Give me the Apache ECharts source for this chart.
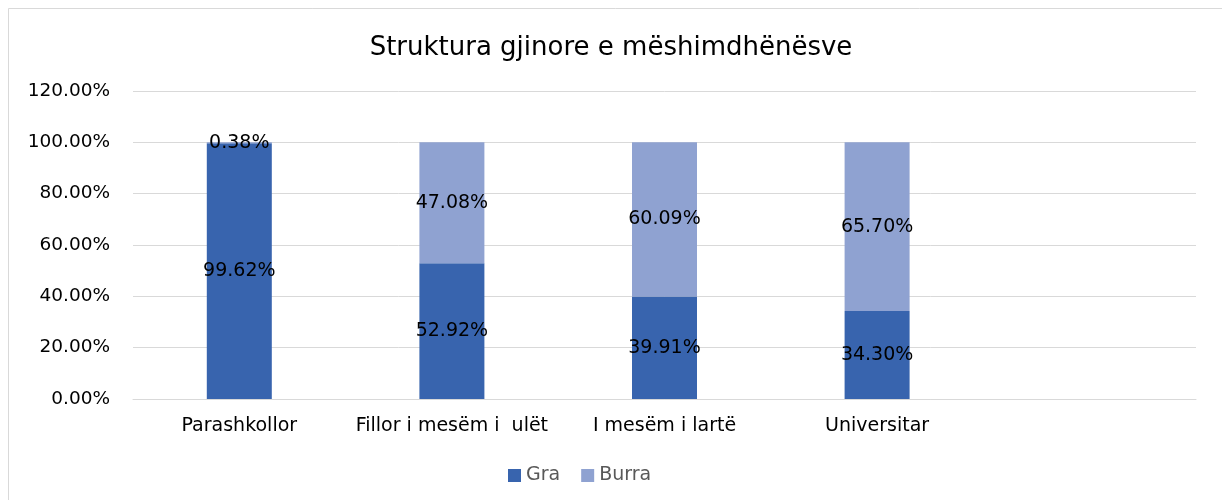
<!DOCTYPE html>
<html>
<head>
<meta charset="utf-8">
<script src="https://cdn.jsdelivr.net/npm/echarts@6/dist/echarts.min.js"></script>
<style>
  html, body { margin: 0; padding: 0; background: #fff; }
  #chart { width: 1222px; height: 500px; }
</style>
</head>
<body>
<div id="chart"></div>
<script>
// categories (the last slot is empty in the original)
const categories = ['Parashkollor', 'Fillor i mesëm i  ulët', 'I mesëm i lartë', 'Universitar', ''];
const graValues = [99.62, 52.92, 39.91, 34.30, null];
const burraValues = [0.38, 47.08, 60.09, 65.70, null];

const chart = echarts.init(document.getElementById('chart'));

const labelStyle = {
  show: true,
  position: 'inside',
  color: '#000',
  fontFamily: 'DejaVu Sans',
  fontSize: 19,
  formatter: p => p.value.toFixed(2) + '%'
};

chart.setOption({
  animation: false,
  backgroundColor: '#fff',
  graphic: [{
    type: 'rect',
    shape: { x: 8.5, y: 8.5, width: 1400, height: 700 },
    style: { fill: 'none', stroke: '#d9d9d9', lineWidth: 1 },
    silent: true
  }],
  title: {
    text: 'Struktura gjinore e mëshimdhënësve',
    left: 'center',
    top: 30,
    textStyle: { fontFamily: 'DejaVu Sans', fontWeight: 'normal', fontSize: 26, color: '#000' }
  },
  legend: {
    bottom: 10,
    left: 503,
    icon: 'rect',
    itemWidth: 13,
    itemHeight: 13,
    itemGap: 21,
    textStyle: { fontFamily: 'DejaVu Sans', fontSize: 19, color: '#595959' },
    data: ['Gra', 'Burra']
  },
  grid: { left: 133, right: 26, top: 91, bottom: 101 },
  xAxis: {
    type: 'category',
    data: categories,
    axisLine: { lineStyle: { color: '#d9d9d9' } },
    axisTick: { show: false },
    axisLabel: { interval: 0, fontFamily: 'DejaVu Sans', fontSize: 19, color: '#000', margin: 18 }
  },
  yAxis: {
    type: 'value',
    min: 0,
    max: 120,
    interval: 20,
    axisLine: { show: false },
    axisTick: { show: false },
    splitLine: { lineStyle: { color: '#d9d9d9' } },
    axisLabel: {
      fontFamily: 'DejaVu Sans', fontSize: 18.5, color: '#000', margin: 23,
      formatter: v => v.toFixed(2) + '%'
    }
  },
  series: [
    {
      name: 'Gra',
      type: 'bar',
      stack: 'total',
      barWidth: 65,
      data: graValues,
      itemStyle: { color: '#3864ae' },
      label: labelStyle
    },
    {
      name: 'Burra',
      type: 'bar',
      stack: 'total',
      barWidth: 65,
      data: burraValues,
      itemStyle: { color: '#8fa2d1' },
      label: labelStyle
    }
  ]
});
</script>
</body>
</html>
